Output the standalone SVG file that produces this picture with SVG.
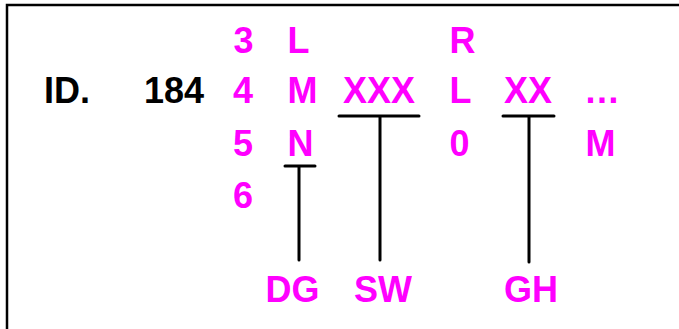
<svg xmlns="http://www.w3.org/2000/svg" width="679" height="329" viewBox="0 0 679 329">
<style>
text{font-family:"Liberation Sans",Arial,sans-serif;font-weight:bold;font-size:36px}
.m{fill:#FF00FF}
.k{fill:#000}
.ln{stroke:#000;stroke-width:3;stroke-linecap:round;fill:none}
</style>
<rect width="679" height="329" fill="#fff"/>
<path d="M7,329 V5 H679" stroke="#000" stroke-width="2.5" fill="none"/>
<g id="id-label"><text class="k" x="44" y="103">ID.</text></g>
<g id="num-184"><text class="k" x="144" y="103">184</text></g>
<g id="col-digits">
<text class="m" x="233.5" y="53">3</text>
<text class="m" x="233" y="103">4</text>
<text class="m" x="233" y="156">5</text>
<text class="m" x="233" y="208">6</text>
</g>
<g id="col-lmn">
<text class="m" x="287.5" y="53">L</text>
<text class="m" x="287.5" y="103">M</text>
<text class="m" x="287.5" y="156">N</text>
</g>
<g id="xxx"><text class="m" x="343" y="103">XXX</text></g>
<g id="col-rl0">
<text class="m" x="449.5" y="53">R</text>
<text class="m" x="449.5" y="103">L</text>
<text class="m" x="449.5" y="156">0</text>
</g>
<g id="xx"><text class="m" x="504" y="103">XX</text></g>
<g id="col-end">
<text class="m" x="584" y="103">…</text>
<text class="m" x="585.5" y="156">M</text>
</g>
<g id="dg"><text class="m" x="265.5" y="302">DG</text></g>
<g id="sw"><text class="m" x="354" y="302">SW</text></g>
<g id="gh"><text class="m" x="504" y="302">GH</text></g>
<g id="connectors">
<path class="ln" d="M339,116 H419 M380,116 V260"/>
<path class="ln" d="M503,116 H554 M529,116 V262"/>
<path class="ln" d="M285,166 H315 M299,166 V260"/>
</g>
</svg>
